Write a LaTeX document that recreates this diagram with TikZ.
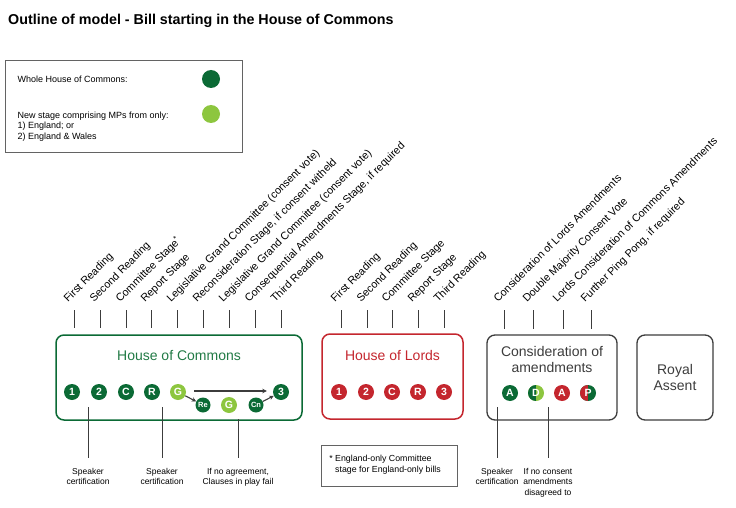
\documentclass[tikz,border=0pt]{standalone}
\usepackage{fontspec}
\setmainfont{Liberation Sans}
\usepackage{tikz}
\usetikzlibrary{arrows.meta}
\definecolor{cgreen}{HTML}{0B6A35}
\definecolor{ctitle}{HTML}{217A45}
\definecolor{clight}{HTML}{8DC63F}
\definecolor{cred}{HTML}{C4262E}
\definecolor{cgrey}{HTML}{3C3C3C}

\begin{document}
\begin{tikzpicture}[
  x=1pt,y=-1pt,
  every node/.style={font=\fontsize{9}{10.5}\selectfont},
  house/.style={draw,rounded corners=8pt,line width=1.5pt,minimum height=85pt},
  housetitle/.style={font=\fontsize{14}{16}\selectfont,align=center},
  stagedot/.style={circle,fill=cgreen,text=white,minimum size=16pt,inner sep=0pt,
    font=\fontsize{10.5}{10.5}\selectfont\bfseries},
  smalldot/.style={stagedot,minimum size=15pt,font=\fontsize{7.5}{7.5}\selectfont\bfseries},
  stagelabel/.style={rotate=45,anchor=base west,inner sep=0pt,font=\fontsize{10.8}{12}\selectfont},
  stagetick/.style={cgrey,line width=1pt},
  note/.style={align=center,anchor=north,inner sep=0pt,outer sep=10pt,
    font=\fontsize{8.5}{10.5}\selectfont},
  arr/.style={cgrey,line width=1.1pt,-{Stealth[length=4.5pt,width=4.5pt]}},
  halfleft/.style={path picture={\fill[#1] (path picture bounding box.south west)
    rectangle (path picture bounding box.north);}},
]
\useasboundingbox (0,0) rectangle (736,508);

\node[anchor=base west,inner sep=0pt,font=\fontsize{14.3}{16}\selectfont\bfseries] (title)
  at (8,24.5) {Outline of model - Bill starting in the House of Commons};

% legend
\node[draw=cgrey!80,line width=0.9pt,minimum width=237pt,minimum height=92pt] (legend) at (123.5,106.5) {};
\node[anchor=west] (lwhole) at (14,79) {Whole House of Commons:};
\node[stagedot,minimum size=18pt] (ldark) at (211,79) {};
\node[anchor=north west,align=left] (lnew) at (14,108) {New stage comprising MPs from only:\\1) England; or\\2) England \& Wales};
\node[stagedot,fill=clight,minimum size=18pt] (llight) at (211,114) {};

% stage ticks and labels
\foreach \x/\t [count=\i] in {74/First Reading, 100/Second Reading,
    126/Committee Stage\textsuperscript{*}, 151/Report Stage,
    177/Legislative Grand Committee (consent vote),
    203/{Reconsideration Stage, if consent witheld},
    229/Legislative Grand Committee (consent vote),
    255/{Consequential Amendments Stage, if required}, 281/Third Reading} {
  \coordinate (ct\i) at (\x,310);
  \draw[stagetick] (ct\i) -- ++(0,18);
  \node[stagelabel] (cl\i) at (\x-6,303) {\t};
}
\foreach \x/\t [count=\i] in {341/First Reading, 367/Second Reading,
    392/Committee Stage, 418/Report Stage, 444/Third Reading} {
  \coordinate (lt\i) at (\x,310);
  \draw[stagetick] (lt\i) -- ++(0,18);
  \node[stagelabel] (ll\i) at (\x-6,303) {\t};
}
\foreach \x/\t [count=\i] in {504/Consideration of Lords Amendments,
    533/Double Majority Consent Vote, 563/Lords Consideration of Commons Amendments,
    591/{Further Ping Pong, if required}} {
  \coordinate (at\i) at (\x,310);
  \draw[stagetick] (at\i) -- ++(0,19);
  \node[stagelabel] (al\i) at (\x-6,303) {\t};
}

% boxes
\node[house,draw=cgreen,minimum width=246pt] (commons) at (179,377.5) {};
\node[housetitle,text=ctitle] (commonstitle) at (179,356) {House of Commons};
\node[house,draw=cred,minimum width=141pt] (lords) at (392.5,376.5) {};
\node[housetitle,text=cred] (lordstitle) at (392.5,355) {House of Lords};
\node[house,draw=cgrey,line width=1.3pt,minimum width=130pt] (consid) at (552,377.5) {};
\node[housetitle,text=cgrey] (considtitle) at (552,359) {Consideration of\\amendments};
\node[house,housetitle,draw=cgrey,text=cgrey,line width=1.3pt,minimum width=76pt] (royal)
  at (675,377.5) {Royal\\Assent};

% commons stages
\node[stagedot] (c1) at (72,392) {1};
\node[stagedot] (c2) at (99,392) {2};
\node[stagedot] (cc) at (126,392) {C};
\node[stagedot] (cr) at (152,392) {R};
\node[stagedot,fill=clight] (g1) at (178,392) {G};
\node[smalldot] (re) at (203,405) {Re};
\node[stagedot,fill=clight] (g2) at (229,405) {G};
\node[smalldot] (cn) at (256,405) {Cn};
\node[stagedot] (c3) at (281,392) {3};
\draw[arr,shorten <=8pt,shorten >=6pt] ([yshift=1pt]g1.east) -- ([yshift=1pt]c3.west);
\draw[arr] (g1) -- (re);
\draw[arr] (cn) -- (c3);

% lords stages
\node[stagedot,fill=cred] (l1) at (339,392) {1};
\node[stagedot,fill=cred] (l2) at (366,392) {2};
\node[stagedot,fill=cred] (lc) at (392,392) {C};
\node[stagedot,fill=cred] (lr) at (418,392) {R};
\node[stagedot,fill=cred] (l3) at (444,392) {3};

% amendments
\node[stagedot] (a1) at (510,393) {A};
\node[stagedot,fill=clight,halfleft=cgreen] (ad) at (536,393) {D};
\node[stagedot,fill=cred] (a2) at (562,393) {A};
\node[stagedot,fill=cgreen,halfleft=cred] (ap) at (588,393) {P};

% notes below
\coordinate (s1top) at (88,407);
\coordinate (s2top) at (162,407);
\coordinate (s3top) at (238,419);
\coordinate (s4top) at (497,407);
\coordinate (s5top) at (548,407);
\node[note] (s1) at (88,458) {Speaker\\certification};
\node[note] (s2) at (162,458) {Speaker\\certification};
\node[note] (s3) at (238,458) {If no agreement,\\Clauses in play fail};
\node[note] (s4) at (497,458) {Speaker\\certification};
\node[note] (s5) at (548,458) {If no consent\\amendments\\disagreed to};
\draw[stagetick] (s1top) -- (s1);
\draw[stagetick] (s2top) -- (s2);
\draw[stagetick] (s3top) -- (s3);
\draw[stagetick] (s4top) -- (s4);
\draw[stagetick] (s5top) -- (s5);

% footnote
\node[draw=cgrey!80,line width=0.9pt,minimum width=136pt,minimum height=41pt] (fnbox) at (389,465.5) {};
\node[anchor=north west,align=left,inner sep=0pt,font=\fontsize{8.8}{10.5}\selectfont] (fn)
  at (335,455) {\llap{* }England-only Committee\\stage for England-only bills};
\end{tikzpicture}
\end{document}
